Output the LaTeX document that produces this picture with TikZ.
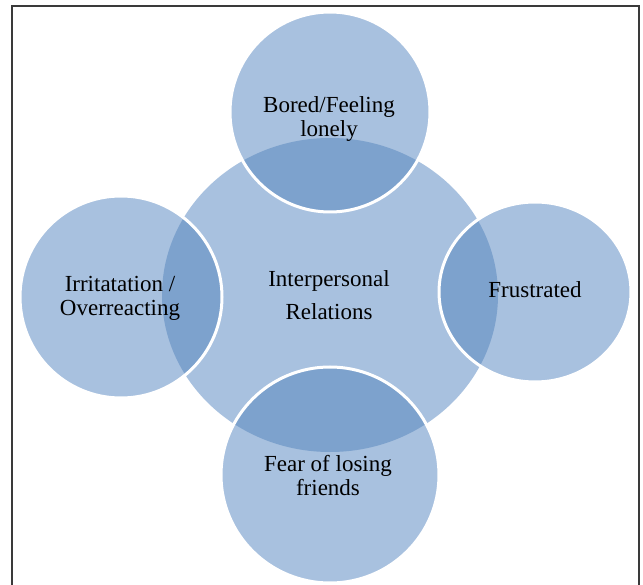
\documentclass[tikz,border=0pt]{standalone}
\usepackage{fontspec}
\setmainfont{Liberation Serif}
\definecolor{lightblue}{HTML}{A8C1DF}
\definecolor{darkblue}{HTML}{7DA2CD}
\definecolor{framegray}{HTML}{3A3A3A}
\begin{document}
\begin{tikzpicture}[x=1pt,y=-1pt,
  lbl/.style={font=\fontsize{23}{24}\selectfont, align=center, text=black, inner sep=0pt},
  ring/.style={white, line width=3pt}]
\useasboundingbox (0,0) rectangle (643,585);
\fill[white] (0,0) rectangle (643,585);
% central shape
\fill[lightblue] (330,295) ellipse [x radius=168pt, y radius=157pt];
% outer shapes with darker overlap and white rim
\foreach \cx/\cy/\rx/\ry in {330/112/100/100, 121/297/101/101, 535/292/96/90, 330/475/109/108}{
  \fill[lightblue] (\cx,\cy) ellipse [x radius=\rx pt, y radius=\ry pt];
  \begin{scope}
    \clip (330,295) ellipse [x radius=168pt, y radius=157pt];
    \fill[darkblue] (\cx,\cy) ellipse [x radius=\rx pt, y radius=\ry pt];
  \end{scope}
  \draw[ring] (\cx,\cy) ellipse [x radius=\rx pt, y radius=\ry pt];
}
% labels
\node[lbl] (center) at (329,295) {Interpersonal\\[9pt]Relations};
\node[lbl] (bored) at (329,119) {Bored/Feeling\\lonely};
\node[lbl] (irrit) at (120,298) {Irritatation /\\Overreacting};
\node[lbl] (frus) at (535,290) {Frustrated};
\node[lbl] (fear) at (328,476) {Fear of losing\\friends};
% frame
\draw[framegray, line width=2pt] (12,590) -- (12,6) -- (639,6) -- (639,590);
\end{tikzpicture}
\end{document}
